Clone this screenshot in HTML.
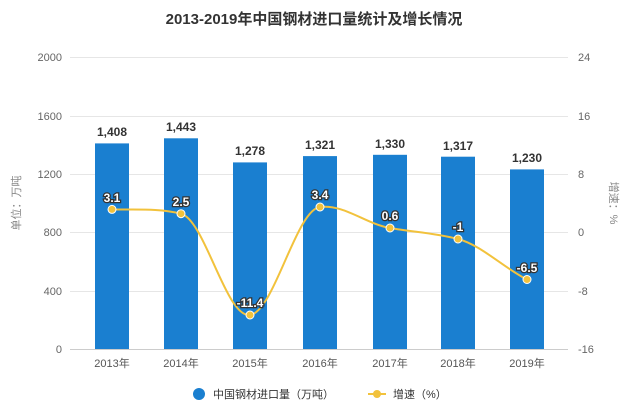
<!DOCTYPE html>
<html><head><meta charset="utf-8"><style>
body{margin:0;background:#fff;}
text{font-family:"Liberation Sans","Noto Sans CJK SC",sans-serif;}
</style></head><body>
<svg width="628" height="412" viewBox="0 0 628 412" xmlns="http://www.w3.org/2000/svg">
<rect width="628" height="412" fill="#fff"/>
<text x="314" y="24" text-anchor="middle" font-size="15" font-weight="bold" fill="#333">2013-2019年中国钢材进口量统计及增长情况</text>
<g stroke="#e6e6e6" stroke-width="1">
<line x1="70" y1="57.5" x2="568" y2="57.5"/>
<line x1="70" y1="116.5" x2="568" y2="116.5"/>
<line x1="70" y1="174.5" x2="568" y2="174.5"/>
<line x1="70" y1="232.5" x2="568" y2="232.5"/>
<line x1="70" y1="291.5" x2="568" y2="291.5"/>
</g>
<line x1="70" y1="349.5" x2="568" y2="349.5" stroke="#ccc"/>
<g font-size="11" fill="#666" text-anchor="end">
<text x="62" y="61">2000</text><text x="62" y="120">1600</text><text x="62" y="178">1200</text>
<text x="62" y="236">800</text><text x="62" y="295">400</text><text x="62" y="353">0</text>
</g>
<g font-size="11" fill="#666" text-anchor="start">
<text x="578" y="61">24</text><text x="578" y="120">16</text><text x="578" y="178">8</text>
<text x="578" y="236">0</text><text x="578" y="295">-8</text><text x="578" y="353">-16</text>
</g>
<text transform="translate(20,203) rotate(-90)" font-size="11" fill="#888" text-anchor="middle">单位：万吨</text>
<text transform="translate(610,203) rotate(90)" font-size="11" fill="#888" text-anchor="middle">增速：%</text>
<g fill="#1a7fd0">
<rect x="95" y="143.4" width="34" height="205.6"/>
<rect x="164" y="138.3" width="34" height="210.7"/>
<rect x="233" y="162.4" width="34" height="186.6"/>
<rect x="303" y="156.1" width="34" height="192.9"/>
<rect x="373" y="154.8" width="34" height="194.2"/>
<rect x="441" y="156.7" width="34" height="192.3"/>
<rect x="510" y="169.4" width="34" height="179.6"/>
</g>
<g font-size="12" font-weight="bold" fill="#333" text-anchor="middle">
<text x="112" y="136">1,408</text><text x="181" y="131">1,443</text><text x="250" y="155">1,278</text>
<text x="320" y="149">1,321</text><text x="390" y="148">1,330</text><text x="458" y="150">1,317</text><text x="527" y="162">1,230</text>
</g>
<g font-size="11" fill="#555" text-anchor="middle">
<text x="112" y="367">2013年</text><text x="181" y="367">2014年</text><text x="250" y="367">2015年</text>
<text x="320" y="367">2016年</text><text x="390" y="367">2017年</text><text x="458" y="367">2018年</text><text x="527" y="367">2019年</text>
</g>
<path d="M112,209.4 C135,210 158,208 181,213.7 C205,220 226,318 250,315 C274,312 296,210 320,207 C344,204 366,224 390,228 C413,232 435,233 458,239 C481,245 504,268 527,279.5" fill="none" stroke="#f2c23c" stroke-width="2"/>
<g fill="#f2c23c" stroke="#fff" stroke-width="1">
<circle cx="112" cy="209.4" r="4"/><circle cx="181" cy="213.7" r="4"/><circle cx="250" cy="315" r="4"/>
<circle cx="320" cy="207" r="4"/><circle cx="390" cy="228" r="4"/><circle cx="458" cy="239" r="4"/><circle cx="527" cy="279.5" r="4"/>
</g>
<g font-size="12" font-weight="bold" fill="#fff" stroke="#333" stroke-width="2.5" paint-order="stroke" text-anchor="middle">
<text x="112" y="202">3.1</text><text x="181" y="206">2.5</text><text x="250" y="307">-11.4</text>
<text x="320" y="199">3.4</text><text x="390" y="220">0.6</text><text x="458" y="231">-1</text><text x="527" y="272">-6.5</text>
</g>
<circle cx="199" cy="394" r="6" fill="#1a7fd0"/>
<text x="213" y="398" font-size="11" fill="#333">中国钢材进口量（万吨）</text>
<line x1="368" y1="394" x2="386" y2="394" stroke="#f2c23c" stroke-width="2"/>
<circle cx="377" cy="394" r="4" fill="#f2c23c"/>
<text x="393" y="398" font-size="11" fill="#333">增速（%）</text>
</svg>
</body></html>
